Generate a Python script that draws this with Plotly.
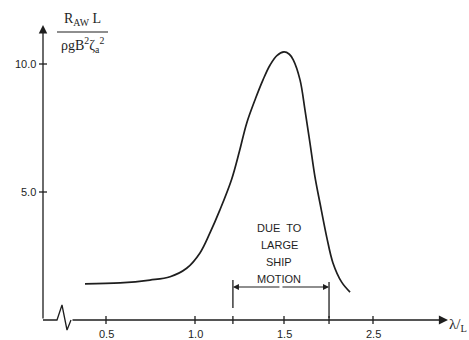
import plotly.graph_objects as go

# Data
wave_ratio = [0.382, 0.579, 0.747, 0.860, 0.953, 1.028, 1.084, 1.140, 1.206, 1.250, 1.290, 1.340, 1.382,
              1.421, 1.460, 1.500, 1.530, 1.552, 1.590, 1.618, 1.646, 1.674, 1.702, 1.740, 1.775, 1.824, 1.871]
resistance = [1.41, 1.45, 1.56, 1.69, 2.02, 2.62, 3.40, 4.30, 5.50, 6.60, 7.68, 8.65, 9.38,
              9.95, 10.33, 10.47, 10.38, 10.16, 9.38, 8.20, 6.91, 5.59, 4.57, 3.24, 2.23, 1.48, 1.09]

x_tick_vals = [0.5, 1.0, 1.5, 2.0]
x_tick_text = ["0.5", "1.0", "1.5", "2.5"]
y_tick_vals = [5.0, 10.0]
y_tick_text = ["5.0", "10.0"]

bracket_x = [1.213, 1.753]
bracket_label = ["DUE TO", "LARGE", "SHIP", "MOTION"]

# scale helpers (px per unit)
XPU = 178.0
YPU = 25.6
x0 = 0.5 - 63 / XPU          # y-axis position
x_end = 0.5 + 342 / XPU      # x-axis arrow tip
y_end = (320 - 25) / YPU     # y-axis arrow tip
INK = "#1e1e1e"

fig = go.Figure()
fig.add_trace(go.Scatter(x=wave_ratio, y=resistance, mode="lines",
                         line=dict(color=INK, width=1.7, shape="spline", smoothing=1.0),
                         hoverinfo="skip", showlegend=False))

def seg(xa, ya, xb, yb, w=1.3):
    fig.add_shape(type="line", x0=xa, y0=ya, x1=xb, y1=yb, xref="x", yref="y",
                  line=dict(color=INK, width=w))

# y axis with arrow
fig.add_annotation(x=x0, y=y_end, ax=x0, ay=0, xref="x", yref="y", axref="x", ayref="y",
                   text="", showarrow=True, arrowhead=2, arrowsize=1.3, arrowwidth=1.3, arrowcolor=INK)
# x axis with break and arrow
zz_x = [x0, 0.5 - 49 / XPU, 0.5 - 44 / XPU, 0.5 - 39 / XPU, 0.5 - 35 / XPU]
zz_y = [0, 0, 15 / YPU, -10 / YPU, 0]
fig.add_trace(go.Scatter(x=zz_x, y=zz_y, mode="lines", line=dict(color=INK, width=1.3),
                         hoverinfo="skip", showlegend=False))
fig.add_annotation(x=x_end, y=0, ax=zz_x[-1], ay=0, xref="x", yref="y", axref="x", ayref="y",
                   text="", showarrow=True, arrowhead=2, arrowsize=1.4, arrowwidth=1.3, arrowcolor=INK)

# x ticks
for v, t in zip(x_tick_vals, x_tick_text):
    seg(v, -4 / YPU, v, 4 / YPU)
    fig.add_annotation(x=v, y=-14 / YPU, text=t, showarrow=False, xref="x", yref="y",
                       font=dict(family="Liberation Sans, Arial", size=11, color=INK))
for v in bracket_x:
    seg(v, -4 / YPU, v, 4 / YPU)
# y ticks
for v, t in zip(y_tick_vals, y_tick_text):
    seg(x0 - 4 / XPU, v, x0 + 4 / XPU, v)
    fig.add_annotation(x=x0 - 5 / XPU, y=v, text=t, showarrow=False, xref="x", yref="y",
                       xanchor="right", font=dict(family="Liberation Sans, Arial", size=11, color=INK))

# bracket
seg(bracket_x[0], 12 / YPU, bracket_x[0], 40 / YPU)
seg(bracket_x[1], 2 / YPU, bracket_x[1], 38 / YPU)
mid = sum(bracket_x) / 2
yb = 33 / YPU
for bx in bracket_x:
    fig.add_annotation(x=bx, y=yb, ax=mid, ay=yb, xref="x", yref="y", axref="x", ayref="y",
                       text="", showarrow=True, arrowhead=2, arrowsize=1.0, arrowwidth=1.2, arrowcolor=INK)
for i, line in enumerate(bracket_label):
    txt = "DUE&nbsp;&nbsp;TO" if line == "DUE TO" else line
    fig.add_annotation(x=mid - 0.01, y=(320 - (228 + 17 * i)) / YPU, text=txt, showarrow=False,
                       xref="x", yref="y", font=dict(family="Liberation Sans, Arial", size=11, color=INK))

# y label fraction
lab_x = 0.5 - 24 / XPU
fig.add_annotation(x=lab_x, y=(320 - 19) / YPU, text="R<sub>AW</sub> L", showarrow=False, xref="x", yref="y",
                   font=dict(family="Liberation Serif, serif", size=14, color=INK))
seg(0.5 - 49 / XPU, (320 - 32) / YPU, 0.5 + 2 / XPU, (320 - 32) / YPU, w=1.2)
fig.add_annotation(x=lab_x, y=(320 - 45) / YPU, text="ρgB<sup>2</sup>ζ<sub>a</sub><sup>2</sup>", showarrow=False,
                   xref="x", yref="y", font=dict(family="Liberation Serif, serif", size=14, color=INK))
# x label
fig.add_annotation(x=0.5 + 352 / XPU, y=-5 / YPU, text="λ/<sub>L</sub>", showarrow=False, xref="x", yref="y",
                   font=dict(family="Liberation Serif, serif", size=15, color=INK))

fig.update_layout(width=469, height=340, margin=dict(l=0, r=0, t=0, b=0),
                  paper_bgcolor="white", plot_bgcolor="white",
                  xaxis=dict(range=[0.5 - 106 / XPU, 0.5 + 363 / XPU], visible=False),
                  yaxis=dict(range=[-20 / YPU, 320 / YPU], visible=False))
fig.write_html("out.html")
